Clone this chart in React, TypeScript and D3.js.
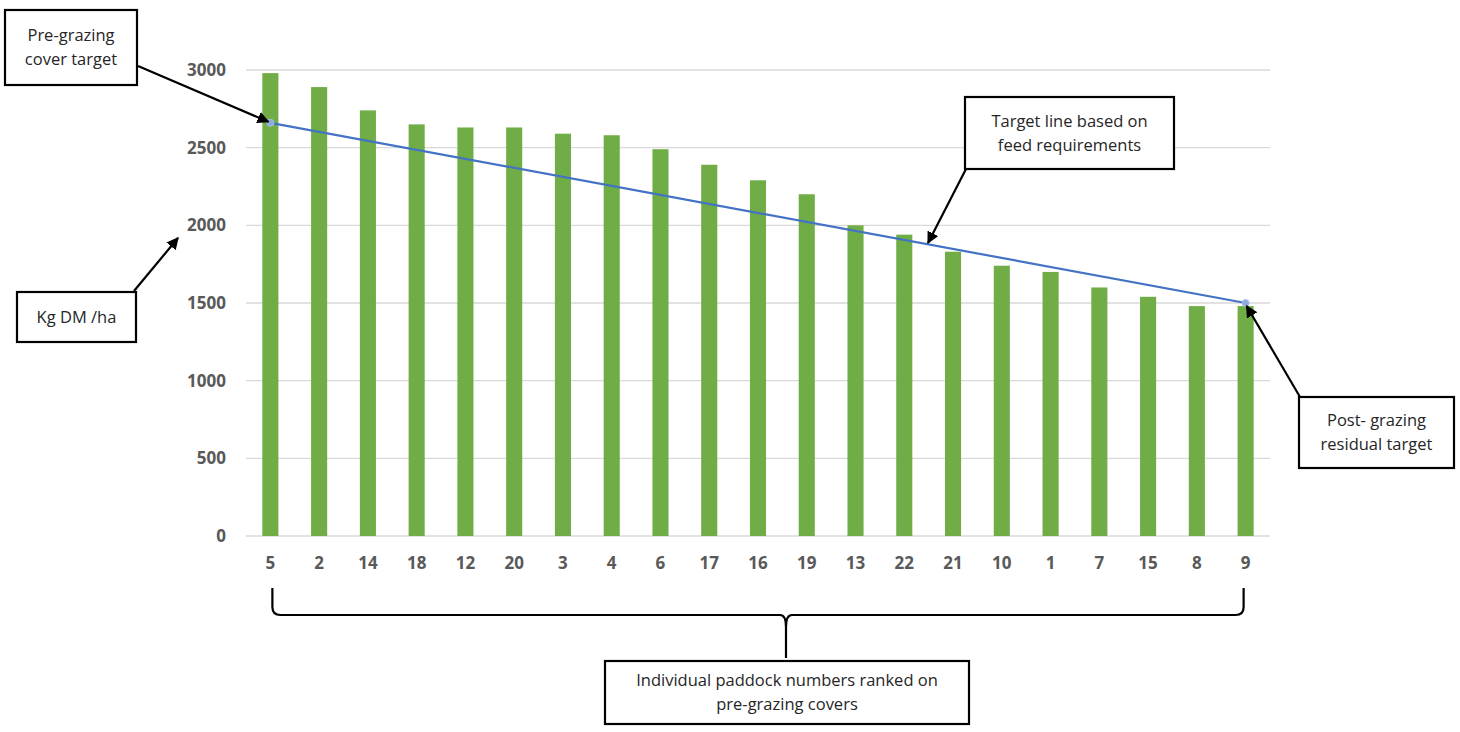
import { useEffect, useRef } from 'react';
import * as d3 from 'd3';

// Paddocks ranked on pre-grazing cover
const paddocks = ['5', '2', '14', '18', '12', '20', '3', '4', '6', '17', '16', '19', '13', '22', '21', '10', '1', '7', '15', '8', '9'];
const covers = [2980, 2890, 2740, 2650, 2630, 2630, 2590, 2580, 2490, 2390, 2290, 2200, 2000, 1940, 1830, 1740, 1700, 1600, 1540, 1480, 1480];

// Target line: pre-grazing target at first paddock, residual at last
const targetPaddocks = ['5', '9'];
const targetValues = [2660, 1500];

const yTicks = [0, 500, 1000, 1500, 2000, 2500, 3000];

const FONT = 'Open Sans, Noto Sans, sans-serif';

export default function App() {
    const svgRef = useRef<SVGSVGElement>(null);

    useEffect(() => {
        if (!svgRef.current) return;
        const svg = d3.select(svgRef.current);
        svg.selectAll('*').remove();

        const plot = { left: 246, right: 1270, top: 70, bottom: 536 };

        const x = d3.scaleBand<string>()
            .domain(paddocks)
            .range([plot.left, plot.right])
            .paddingInner(0.67)
            .paddingOuter(0.335);

        const y = d3.scaleLinear()
            .domain([0, 3000])
            .range([plot.bottom, plot.top]);

        // Gridlines
        svg.append('g')
            .selectAll('line')
            .data(yTicks)
            .enter()
            .append('line')
            .attr('x1', plot.left)
            .attr('x2', plot.right)
            .attr('y1', d => y(d))
            .attr('y2', d => y(d))
            .attr('stroke', '#d9d9d9')
            .attr('stroke-width', 1.3);

        // Y labels
        svg.append('g')
            .selectAll('text')
            .data(yTicks)
            .enter()
            .append('text')
            .attr('x', 226)
            .attr('y', d => y(d))
            .attr('dy', '0.35em')
            .attr('text-anchor', 'end')
            .attr('font-family', FONT)
            .attr('font-weight', 700)
            .attr('font-size', 17)
            .attr('fill', '#595959')
            .text(d => d);

        // Bars
        svg.append('g')
            .selectAll('rect')
            .data(covers)
            .enter()
            .append('rect')
            .attr('x', (_, i) => x(paddocks[i]) || 0)
            .attr('y', d => y(d))
            .attr('width', x.bandwidth())
            .attr('height', d => y(0) - y(d))
            .attr('fill', '#70ad47');

        // X labels
        svg.append('g')
            .selectAll('text')
            .data(paddocks)
            .enter()
            .append('text')
            .attr('x', d => (x(d) || 0) + x.bandwidth() / 2)
            .attr('y', 563)
            .attr('dy', '0.35em')
            .attr('text-anchor', 'middle')
            .attr('font-family', FONT)
            .attr('font-weight', 700)
            .attr('font-size', 17)
            .attr('fill', '#595959')
            .text(d => d);

        // Target line
        const cx = (p: string) => (x(p) || 0) + x.bandwidth() / 2;
        const line = d3.line<number>()
            .x((_, i) => cx(targetPaddocks[i]))
            .y(d => y(d));
        svg.append('path')
            .datum(targetValues)
            .attr('d', line)
            .attr('fill', 'none')
            .attr('stroke', '#4472c4')
            .attr('stroke-width', 2.2);
        svg.append('g')
            .selectAll('circle')
            .data(targetValues)
            .enter()
            .append('circle')
            .attr('cx', (_, i) => cx(targetPaddocks[i]))
            .attr('cy', d => y(d))
            .attr('r', 3.5)
            .attr('fill', '#8faadc')
            .attr('stroke', '#a9c0e8')
            .attr('stroke-width', 1);

        // Arrowhead
        svg.append('defs').append('marker')
            .attr('id', 'arrow')
            .attr('viewBox', '0 0 10 10')
            .attr('refX', 9)
            .attr('refY', 5)
            .attr('markerWidth', 5.5)
            .attr('markerHeight', 5.5)
            .attr('orient', 'auto')
            .append('path')
            .attr('d', 'M0,0 L10,5 L0,10 z')
            .attr('fill', '#000');

        const boxes = [
            { x: 5, y: 10, w: 132, h: 75, lines: ['Pre-grazing', 'cover target'] },
            { x: 965, y: 97, w: 209, h: 72, lines: ['Target line based on', 'feed requirements'] },
            { x: 17, y: 292, w: 119, h: 50, lines: ['Kg DM /ha'] },
            { x: 1299, y: 397, w: 155, h: 71, lines: ['Post- grazing', 'residual target'] },
            { x: 605, y: 661, w: 364, h: 63, lines: ['Individual paddock numbers ranked on', 'pre-grazing covers'] }
        ];

        const arrows = [
            { x1: 138, y1: 66, x2: cx('5') - 2, y2: y(targetValues[0]) - 1 },
            { x1: 966, y1: 169, x2: 928, y2: 243 },
            { x1: 134, y1: 291, x2: 178, y2: 238 },
            { x1: 1300, y1: 397, x2: cx('9') + 1, y2: y(targetValues[1]) + 3 }
        ];

        svg.append('g')
            .selectAll('line')
            .data(arrows)
            .enter()
            .append('line')
            .attr('x1', d => d.x1)
            .attr('y1', d => d.y1)
            .attr('x2', d => d.x2)
            .attr('y2', d => d.y2)
            .attr('stroke', '#000')
            .attr('stroke-width', 2.2)
            .attr('marker-end', 'url(#arrow)');

        const bg = svg.append('g')
            .selectAll('g')
            .data(boxes)
            .enter()
            .append('g');
        bg.append('rect')
            .attr('x', d => d.x)
            .attr('y', d => d.y)
            .attr('width', d => d.w)
            .attr('height', d => d.h)
            .attr('fill', '#fff')
            .attr('stroke', '#000')
            .attr('stroke-width', 2.2);
        bg.each(function (d) {
            const n = d.lines.length;
            const lh = 24;
            const cy = d.y + d.h / 2;
            d3.select(this).selectAll('text')
                .data(d.lines)
                .enter()
                .append('text')
                .attr('x', d.x + d.w / 2)
                .attr('y', (_, i) => cy + (i - (n - 1) / 2) * lh)
                .attr('dy', '0.35em')
                .attr('text-anchor', 'middle')
                .attr('font-family', FONT)
                .attr('font-size', 16.5)
                .attr('fill', '#262626')
                .text(t => t);
        });

        // Brace under x labels
        const bx1 = cx('5') + 2;
        const bx2 = cx('9') - 2;
        const mid = 786;
        const top = 588;
        const by = 615;
        const r = 8;
        const brace = d3.path();
        brace.moveTo(bx1, top);
        brace.lineTo(bx1, by - r);
        brace.quadraticCurveTo(bx1, by, bx1 + r, by);
        brace.lineTo(mid - 6, by);
        brace.quadraticCurveTo(mid, by, mid, by + 12);
        brace.lineTo(mid, 658);
        brace.moveTo(mid, by + 12);
        brace.quadraticCurveTo(mid, by, mid + 6, by);
        brace.lineTo(bx2 - r, by);
        brace.quadraticCurveTo(bx2, by, bx2, by - r);
        brace.lineTo(bx2, top);
        svg.append('path')
            .attr('d', brace.toString())
            .attr('fill', 'none')
            .attr('stroke', '#000')
            .attr('stroke-width', 2.2);
    }, []);

    return (
        <div style={{ position: 'fixed', left: 0, top: 0, width: 1460, height: 732, background: '#fff' }}>
            <svg ref={svgRef} width={1460} height={732} />
        </div>
    );
}
